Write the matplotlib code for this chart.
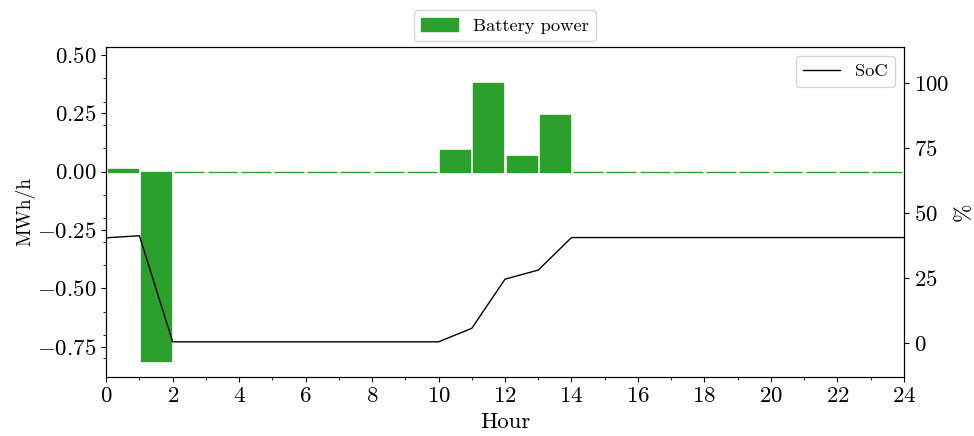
import numpy as np
import matplotlib
matplotlib.use("Agg")
import matplotlib.pyplot as plt
from matplotlib.ticker import MultipleLocator

plt.rcParams["font.family"] = "serif"
plt.rcParams["font.serif"] = ["cmr10"]
plt.rcParams["mathtext.fontset"] = "cm"
plt.rcParams["axes.formatter.use_mathtext"] = True

# Battery power per hour (MWh/h)
hours = np.arange(24)
battery_power = [0.012, -0.81, 0, 0, 0, 0, 0, 0, 0, 0,
                 0.093, 0.381, 0.067, 0.243, 0, 0, 0, 0, 0, 0,
                 0, 0, 0, 0]

# State of charge (%) at each hour boundary
soc_hours = np.arange(25)
soc = [40.6, 41.4, 0.6, 0.6, 0.6, 0.6, 0.6, 0.6, 0.6, 0.6,
       0.6, 5.8, 24.7, 28.2, 40.7, 40.7, 40.7, 40.7, 40.7, 40.7,
       40.7, 40.7, 40.7, 40.7, 40.7]

green = "#2ca02c"

fig, ax = plt.subplots(figsize=(9.74, 4.36), dpi=100)
ax.bar(hours + 0.5, battery_power, width=0.9, color=green,
       edgecolor=green, linewidth=1, label="Battery power")
ax.set_xlim(0, 24)
ax.set_ylim(-0.879, 0.536)
ax.set_xticks(np.arange(0, 25, 2))
ax.xaxis.set_minor_locator(MultipleLocator(1))
ax.yaxis.set_major_locator(MultipleLocator(0.25))
ax.yaxis.set_minor_locator(MultipleLocator(0.1))
ax.tick_params(labelsize=16.5)
ax.set_xlabel("Hour", fontsize=16.5, labelpad=5)
ax.set_ylabel("MWh/h", fontsize=14, labelpad=1)
ax.legend(loc="lower center", bbox_to_anchor=(0.5, 1.0), fontsize=13.3,
          borderaxespad=0.3)

ax2 = ax.twinx()
ax2.plot(soc_hours, soc, color="black", linewidth=1, label="SoC")
ax2.set_ylim(-12.8, 114.1)
ax2.yaxis.set_major_locator(MultipleLocator(25))
ax2.tick_params(labelsize=16.5)
ax2.set_ylabel("%", fontsize=16)
ax2.legend(loc="upper right", fontsize=13.3)

fig.subplots_adjust(left=0.109, right=0.928, top=0.893, bottom=0.136)
fig.savefig("out.png", dpi=100)
